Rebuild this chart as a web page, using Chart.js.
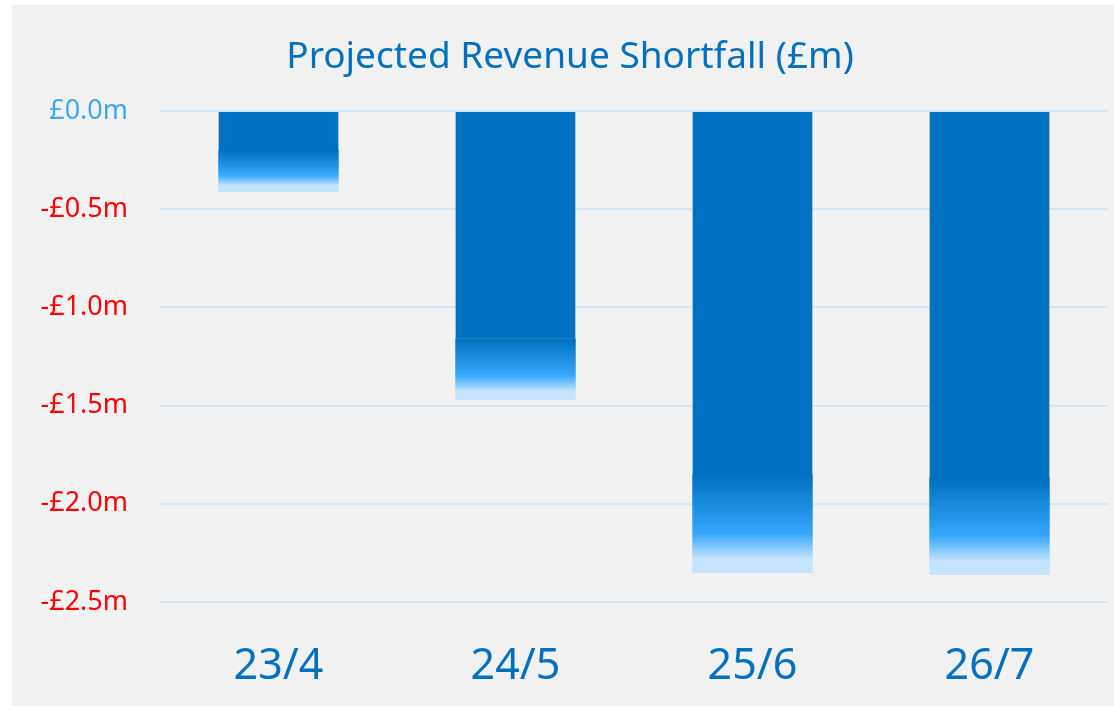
<!DOCTYPE html>
<html>
<head>
<meta charset="utf-8">
<script src="https://cdn.jsdelivr.net/npm/chart.js@4/dist/chart.umd.min.js"></script>
<style>
  html, body { margin: 0; padding: 0; background: #ffffff; }
  #wrap { position: absolute; left: 12px; top: 5px; width: 1102px; height: 701px; background: #f2f2f2; }
</style>
</head>
<body>
<div id="wrap"><canvas id="c"></canvas></div>
<script>
const categories = ['23/4', '24/5', '25/6', '26/7'];
// Solid (dark) part and gradient (fading) part of each bar, stacked; totals are the shortfall in £m
const solidPart = [-0.20, -1.16, -1.85, -1.87];
const fadePart = [-0.21, -0.31, -0.50, -0.49];
const yTicks = [0, -0.5, -1.0, -1.5, -2.0, -2.5];

const DARK = '#0070c0';

function fadeColor(ctx) {
  const chart = ctx.chart;
  if (!chart.chartArea || !chart.scales.y) return DARK;
  const i = ctx.dataIndex;
  const ys = chart.scales.y;
  const top = ys.getPixelForValue(solidPart[i]);
  const bot = ys.getPixelForValue(solidPart[i] + fadePart[i]);
  const g = chart.ctx.createLinearGradient(0, top, 0, bot);
  g.addColorStop(0, DARK);
  g.addColorStop(0.6, '#35a8fd');
  g.addColorStop(0.86, '#c3e3fe');
  g.addColorStop(1, '#c3e3fe');
  return g;
}

new Chart(document.getElementById('c'), {
  type: 'bar',
  data: {
    labels: categories,
    datasets: [
      { label: 'Shortfall', data: solidPart, backgroundColor: DARK, borderWidth: 0,
        categoryPercentage: 1, barPercentage: 0.505 },
      { label: 'Shortfall (range)', data: fadePart, backgroundColor: fadeColor, borderWidth: 0,
        inflateAmount: 0.4, categoryPercentage: 1, barPercentage: 0.505 }
    ]
  },
  options: {
    responsive: true,
    maintainAspectRatio: false,
    animation: false,
    layout: { padding: { left: 20, right: 6, top: 0, bottom: 0 } },
    plugins: {
      legend: { display: false },
      tooltip: { enabled: false },
      title: {
        display: true,
        text: 'Projected Revenue Shortfall (£m)',
        color: '#0070c0',
        font: { family: 'Noto Sans', size: 37, weight: 'normal', lineHeight: 1.2 },
        padding: { top: 30, bottom: 31.6 }
      }
    },
    scales: {
      x: {
        stacked: true,
        grid: { display: false, drawTicks: false },
        border: { display: false },
        ticks: { color: '#0070c0', font: { family: 'Noto Sans', size: 43 }, padding: 39 },
        afterFit: (s) => { s.height = 104; }
      },
      y: {
        stacked: true,
        min: -2.5,
        max: 0,
        afterBuildTicks: (s) => { s.ticks = yTicks.map(v => ({ value: v })); },
        grid: { color: '#d0e7fa', lineWidth: 2, drawTicks: false },
        border: { display: false },
        ticks: {
          padding: 32,
          font: { family: 'Noto Sans', size: 27 },
          color: (ctx) => ctx.tick.value === 0 ? '#3ea7f2' : '#ff0000',
          callback: (v) => (v < 0 ? '-' : '') + '£' + Math.abs(v).toFixed(1) + 'm'
        },
        afterFit: (s) => { s.width = 128; }
      }
    }
  }
});
</script>
</body>
</html>
